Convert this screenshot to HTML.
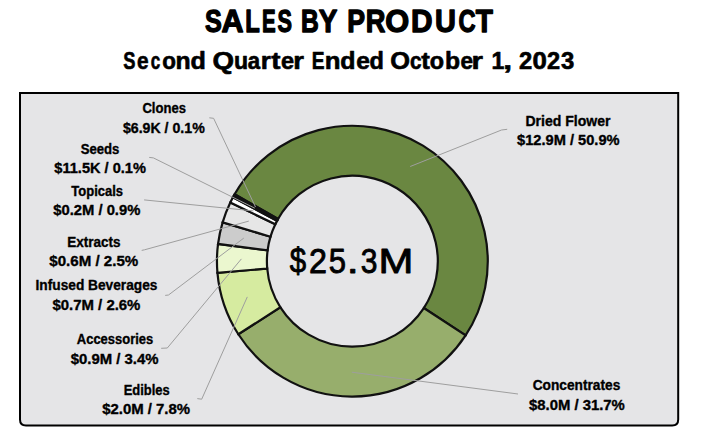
<!DOCTYPE html>
<html><head><meta charset="utf-8"><style>
html,body{margin:0;padding:0;background:#fff;width:702px;height:436px;overflow:hidden}
svg{display:block}
text{font-family:"Liberation Sans",sans-serif;fill:#000}
</style></head><body>
<svg width="702" height="436" viewBox="0 0 702 436">
<path d="M20,93 H678.2 V419.6 Q678.2,425.6 672.2,425.6 H26 Q20,425.6 20,419.6 Z" fill="#E5E5E7" stroke="#000" stroke-width="2"/>
<g stroke="#111" stroke-width="2.2" stroke-linejoin="miter">
<path d="M234.62,194.32 A135.4,135.4 0 1 1 465.60,335.41 L423.82,308.03 A85.45,85.45 0 1 0 278.05,218.99 Z" fill="#6A8741"/>
<path d="M465.60,335.41 A135.4,135.4 0 0 1 238.34,334.24 L280.40,307.29 A85.45,85.45 0 0 0 423.82,308.03 Z" fill="#97AE6C"/>
<path d="M238.34,334.24 A135.4,135.4 0 0 1 217.45,272.82 L267.22,268.53 A85.45,85.45 0 0 0 280.40,307.29 Z" fill="#D6EBA0"/>
<path d="M217.45,272.82 A135.4,135.4 0 0 1 218.05,243.96 L267.60,250.32 A85.45,85.45 0 0 0 267.22,268.53 Z" fill="#EBF7CF"/>
<path d="M218.05,243.96 A135.4,135.4 0 0 1 222.64,222.35 L270.49,236.68 A85.45,85.45 0 0 0 267.60,250.32 Z" fill="#CCCCCC"/>
<path d="M222.64,222.35 A135.4,135.4 0 0 1 230.32,202.53 L275.34,224.18 A85.45,85.45 0 0 0 270.49,236.68 Z" fill="#E6E6E6"/>
<path d="M230.32,202.53 A135.4,135.4 0 0 1 232.98,197.30 L277.01,220.87 A85.45,85.45 0 0 0 275.34,224.18 Z" fill="#FFFFFF"/>
<path d="M232.98,197.30 A135.4,135.4 0 0 1 233.79,195.80 L277.53,219.93 A85.45,85.45 0 0 0 277.01,220.87 Z" fill="#FFFFFF"/>
<path d="M233.79,195.80 A135.4,135.4 0 0 1 234.62,194.32 L278.05,218.99 A85.45,85.45 0 0 0 277.53,219.93 Z" fill="#FFFFFF"/>
</g>
<g fill="none" stroke="#9E9E9E" stroke-width="1">
<polyline points="209.3,117.8 213.6,118.3 255.5,207.0"/>
<polyline points="149.2,157.4 153.4,157.9 254.8,208.2"/>
<polyline points="144.1,199.9 253.4,210.9"/>
<polyline points="141.7,250.4 144.5,249.8 248.8,221.1"/>
<polyline points="165.2,295.4 168.5,295.0 243.8,238.1"/>
<polyline points="161.2,348.3 167.3,348.0 241.4,258.9"/>
<polyline points="197.3,398.6 201.7,399.2 247.3,296.9"/>
<polyline points="507.2,129.3 501.5,130.0 410.2,166.5"/>
<polyline points="518.0,394.0 351.8,372.2"/>
</g>
<text x="164.15" y="113.1" font-size="14.4" font-weight="bold" stroke="#000" stroke-width="0.35" stroke-linejoin="round" text-anchor="middle" textLength="43.53" lengthAdjust="spacingAndGlyphs">Clones</text>
<text x="163.83" y="133" font-size="14.4" font-weight="bold" stroke="#000" stroke-width="0.35" stroke-linejoin="round" text-anchor="middle" textLength="81.84" lengthAdjust="spacingAndGlyphs">$6.9K / 0.1%</text>
<text x="100.04" y="154.0" font-size="14.4" font-weight="bold" stroke="#000" stroke-width="0.35" stroke-linejoin="round" text-anchor="middle" textLength="38.80" lengthAdjust="spacingAndGlyphs">Seeds</text>
<text x="100.14" y="173.2" font-size="14.4" font-weight="bold" stroke="#000" stroke-width="0.35" stroke-linejoin="round" text-anchor="middle" textLength="91.66" lengthAdjust="spacingAndGlyphs">$11.5K / 0.1%</text>
<text x="97.17" y="195.7" font-size="14.4" font-weight="bold" stroke="#000" stroke-width="0.35" stroke-linejoin="round" text-anchor="middle" textLength="51.79" lengthAdjust="spacingAndGlyphs">Topicals</text>
<text x="96.79" y="215" font-size="14.4" font-weight="bold" stroke="#000" stroke-width="0.35" stroke-linejoin="round" text-anchor="middle" textLength="87.14" lengthAdjust="spacingAndGlyphs">$0.2M / 0.9%</text>
<text x="93.97" y="246.5" font-size="14.4" font-weight="bold" stroke="#000" stroke-width="0.35" stroke-linejoin="round" text-anchor="middle" textLength="53.36" lengthAdjust="spacingAndGlyphs">Extracts</text>
<text x="93.80" y="266.4" font-size="14.4" font-weight="bold" stroke="#000" stroke-width="0.35" stroke-linejoin="round" text-anchor="middle" textLength="88.95" lengthAdjust="spacingAndGlyphs">$0.6M / 2.5%</text>
<text x="96.51" y="290.4" font-size="14.4" font-weight="bold" stroke="#000" stroke-width="0.35" stroke-linejoin="round" text-anchor="middle" textLength="121.96" lengthAdjust="spacingAndGlyphs">Infused Beverages</text>
<text x="96.45" y="310.3" font-size="14.4" font-weight="bold" stroke="#000" stroke-width="0.35" stroke-linejoin="round" text-anchor="middle" textLength="87.91" lengthAdjust="spacingAndGlyphs">$0.7M / 2.6%</text>
<text x="115.05" y="344.4" font-size="14.4" font-weight="bold" stroke="#000" stroke-width="0.35" stroke-linejoin="round" text-anchor="middle" textLength="76.46" lengthAdjust="spacingAndGlyphs">Accessories</text>
<text x="114.66" y="363.6" font-size="14.4" font-weight="bold" stroke="#000" stroke-width="0.35" stroke-linejoin="round" text-anchor="middle" textLength="87.74" lengthAdjust="spacingAndGlyphs">$0.9M / 3.4%</text>
<text x="146.71" y="394.5" font-size="14.4" font-weight="bold" stroke="#000" stroke-width="0.35" stroke-linejoin="round" text-anchor="middle" textLength="46.11" lengthAdjust="spacingAndGlyphs">Edibles</text>
<text x="146.11" y="413.7" font-size="14.4" font-weight="bold" stroke="#000" stroke-width="0.35" stroke-linejoin="round" text-anchor="middle" textLength="87.93" lengthAdjust="spacingAndGlyphs">$2.0M / 7.8%</text>
<text x="567.97" y="126.0" font-size="14.4" font-weight="bold" stroke="#000" stroke-width="0.35" stroke-linejoin="round" text-anchor="middle" textLength="85.13" lengthAdjust="spacingAndGlyphs">Dried Flower</text>
<text x="568.34" y="145.0" font-size="14.4" font-weight="bold" stroke="#000" stroke-width="0.35" stroke-linejoin="round" text-anchor="middle" textLength="102.56" lengthAdjust="spacingAndGlyphs">$12.9M / 50.9%</text>
<text x="576.52" y="389.7" font-size="14.4" font-weight="bold" stroke="#000" stroke-width="0.35" stroke-linejoin="round" text-anchor="middle" textLength="87.58" lengthAdjust="spacingAndGlyphs">Concentrates</text>
<text x="576.93" y="409.9" font-size="14.4" font-weight="bold" stroke="#000" stroke-width="0.35" stroke-linejoin="round" text-anchor="middle" textLength="95.80" lengthAdjust="spacingAndGlyphs">$8.0M / 31.7%</text>
<text x="204.92" y="32.4" font-size="31.0" font-weight="bold" stroke="#000" stroke-width="1.3" stroke-linejoin="round" textLength="16.81" lengthAdjust="spacingAndGlyphs">S</text>
<text x="221.49" y="32.4" font-size="31.0" font-weight="bold" stroke="#000" stroke-width="1.3" stroke-linejoin="round" textLength="22.07" lengthAdjust="spacingAndGlyphs">A</text>
<text x="245.36" y="32.4" font-size="31.0" font-weight="bold" stroke="#000" stroke-width="1.3" stroke-linejoin="round" textLength="14.52" lengthAdjust="spacingAndGlyphs">L</text>
<text x="261.98" y="32.4" font-size="31.0" font-weight="bold" stroke="#000" stroke-width="1.3" stroke-linejoin="round" textLength="13.67" lengthAdjust="spacingAndGlyphs">E</text>
<text x="277.62" y="32.4" font-size="31.0" font-weight="bold" stroke="#000" stroke-width="1.3" stroke-linejoin="round" textLength="14.47" lengthAdjust="spacingAndGlyphs">S</text>
<text x="301.10" y="32.4" font-size="31.0" font-weight="bold" stroke="#000" stroke-width="1.3" stroke-linejoin="round" textLength="17.76" lengthAdjust="spacingAndGlyphs">B</text>
<text x="318.87" y="32.4" font-size="31.0" font-weight="bold" stroke="#000" stroke-width="1.3" stroke-linejoin="round" textLength="18.63" lengthAdjust="spacingAndGlyphs">Y</text>
<text x="347.27" y="32.4" font-size="31.0" font-weight="bold" stroke="#000" stroke-width="1.3" stroke-linejoin="round" textLength="17.80" lengthAdjust="spacingAndGlyphs">P</text>
<text x="365.73" y="32.4" font-size="31.0" font-weight="bold" stroke="#000" stroke-width="1.3" stroke-linejoin="round" textLength="19.68" lengthAdjust="spacingAndGlyphs">R</text>
<text x="385.19" y="32.4" font-size="31.0" font-weight="bold" stroke="#000" stroke-width="1.3" stroke-linejoin="round" textLength="23.96" lengthAdjust="spacingAndGlyphs">O</text>
<text x="411.05" y="32.4" font-size="31.0" font-weight="bold" stroke="#000" stroke-width="1.3" stroke-linejoin="round" textLength="21.55" lengthAdjust="spacingAndGlyphs">D</text>
<text x="434.91" y="32.4" font-size="31.0" font-weight="bold" stroke="#000" stroke-width="1.3" stroke-linejoin="round" textLength="20.91" lengthAdjust="spacingAndGlyphs">U</text>
<text x="458.38" y="32.4" font-size="31.0" font-weight="bold" stroke="#000" stroke-width="1.3" stroke-linejoin="round" textLength="17.12" lengthAdjust="spacingAndGlyphs">C</text>
<text x="475.74" y="32.4" font-size="31.0" font-weight="bold" stroke="#000" stroke-width="1.3" stroke-linejoin="round" textLength="17.12" lengthAdjust="spacingAndGlyphs">T</text>
<text x="123.20" y="68.8" font-size="24.6" font-weight="bold" stroke="#000" stroke-width="0.65" stroke-linejoin="round" textLength="12.19" lengthAdjust="spacingAndGlyphs">S</text>
<text x="137.01" y="68.8" font-size="24.6" font-weight="bold" stroke="#000" stroke-width="0.65" stroke-linejoin="round" textLength="11.57" lengthAdjust="spacingAndGlyphs">e</text>
<text x="150.86" y="68.8" font-size="24.6" font-weight="bold" stroke="#000" stroke-width="0.65" stroke-linejoin="round" textLength="9.52" lengthAdjust="spacingAndGlyphs">c</text>
<text x="162.15" y="68.8" font-size="24.6" font-weight="bold" stroke="#000" stroke-width="0.65" stroke-linejoin="round" textLength="13.70" lengthAdjust="spacingAndGlyphs">o</text>
<text x="175.49" y="68.8" font-size="24.6" font-weight="bold" stroke="#000" stroke-width="0.65" stroke-linejoin="round" textLength="15.12" lengthAdjust="spacingAndGlyphs">n</text>
<text x="190.40" y="68.8" font-size="24.6" font-weight="bold" stroke="#000" stroke-width="0.65" stroke-linejoin="round" textLength="15.33" lengthAdjust="spacingAndGlyphs">d</text>
<text x="212.49" y="68.8" font-size="24.6" font-weight="bold" stroke="#000" stroke-width="0.65" stroke-linejoin="round" textLength="21.55" lengthAdjust="spacingAndGlyphs">Q</text>
<text x="233.89" y="68.8" font-size="24.6" font-weight="bold" stroke="#000" stroke-width="0.65" stroke-linejoin="round" textLength="14.10" lengthAdjust="spacingAndGlyphs">u</text>
<text x="247.67" y="68.8" font-size="24.6" font-weight="bold" stroke="#000" stroke-width="0.65" stroke-linejoin="round" textLength="12.36" lengthAdjust="spacingAndGlyphs">a</text>
<text x="260.82" y="68.8" font-size="24.6" font-weight="bold" stroke="#000" stroke-width="0.65" stroke-linejoin="round" textLength="10.04" lengthAdjust="spacingAndGlyphs">r</text>
<text x="271.29" y="68.8" font-size="24.6" font-weight="bold" stroke="#000" stroke-width="0.65" stroke-linejoin="round" textLength="9.23" lengthAdjust="spacingAndGlyphs">t</text>
<text x="281.01" y="68.8" font-size="24.6" font-weight="bold" stroke="#000" stroke-width="0.65" stroke-linejoin="round" textLength="13.07" lengthAdjust="spacingAndGlyphs">e</text>
<text x="293.22" y="68.8" font-size="24.6" font-weight="bold" stroke="#000" stroke-width="0.65" stroke-linejoin="round" textLength="10.67" lengthAdjust="spacingAndGlyphs">r</text>
<text x="311.64" y="68.8" font-size="24.6" font-weight="bold" stroke="#000" stroke-width="0.65" stroke-linejoin="round" textLength="12.78" lengthAdjust="spacingAndGlyphs">E</text>
<text x="324.83" y="68.8" font-size="24.6" font-weight="bold" stroke="#000" stroke-width="0.65" stroke-linejoin="round" textLength="15.75" lengthAdjust="spacingAndGlyphs">n</text>
<text x="340.30" y="68.8" font-size="24.6" font-weight="bold" stroke="#000" stroke-width="0.65" stroke-linejoin="round" textLength="15.21" lengthAdjust="spacingAndGlyphs">d</text>
<text x="356.37" y="68.8" font-size="24.6" font-weight="bold" stroke="#000" stroke-width="0.65" stroke-linejoin="round" textLength="13.65" lengthAdjust="spacingAndGlyphs">e</text>
<text x="369.46" y="68.8" font-size="24.6" font-weight="bold" stroke="#000" stroke-width="0.65" stroke-linejoin="round" textLength="14.36" lengthAdjust="spacingAndGlyphs">d</text>
<text x="390.38" y="68.8" font-size="24.6" font-weight="bold" stroke="#000" stroke-width="0.65" stroke-linejoin="round" textLength="19.76" lengthAdjust="spacingAndGlyphs">O</text>
<text x="410.01" y="68.8" font-size="24.6" font-weight="bold" stroke="#000" stroke-width="0.65" stroke-linejoin="round" textLength="11.57" lengthAdjust="spacingAndGlyphs">c</text>
<text x="421.31" y="68.8" font-size="24.6" font-weight="bold" stroke="#000" stroke-width="0.65" stroke-linejoin="round" textLength="8.58" lengthAdjust="spacingAndGlyphs">t</text>
<text x="429.81" y="68.8" font-size="24.6" font-weight="bold" stroke="#000" stroke-width="0.65" stroke-linejoin="round" textLength="14.28" lengthAdjust="spacingAndGlyphs">o</text>
<text x="445.10" y="68.8" font-size="24.6" font-weight="bold" stroke="#000" stroke-width="0.65" stroke-linejoin="round" textLength="15.09" lengthAdjust="spacingAndGlyphs">b</text>
<text x="460.45" y="68.8" font-size="24.6" font-weight="bold" stroke="#000" stroke-width="0.65" stroke-linejoin="round" textLength="12.50" lengthAdjust="spacingAndGlyphs">e</text>
<text x="471.59" y="68.8" font-size="24.6" font-weight="bold" stroke="#000" stroke-width="0.65" stroke-linejoin="round" textLength="11.43" lengthAdjust="spacingAndGlyphs">r</text>
<text x="491.47" y="68.8" font-size="24.6" font-weight="bold" stroke="#000" stroke-width="0.65" stroke-linejoin="round" textLength="12.85" lengthAdjust="spacingAndGlyphs">1</text>
<text x="503.27" y="68.8" font-size="24.6" font-weight="bold" stroke="#000" stroke-width="0.65" stroke-linejoin="round" textLength="8.84" lengthAdjust="spacingAndGlyphs">,</text>
<text x="519.10" y="68.8" font-size="24.6" font-weight="bold" stroke="#000" stroke-width="0.65" stroke-linejoin="round" textLength="13.23" lengthAdjust="spacingAndGlyphs">2</text>
<text x="532.41" y="68.8" font-size="24.6" font-weight="bold" stroke="#000" stroke-width="0.65" stroke-linejoin="round" textLength="14.33" lengthAdjust="spacingAndGlyphs">0</text>
<text x="546.91" y="68.8" font-size="24.6" font-weight="bold" stroke="#000" stroke-width="0.65" stroke-linejoin="round" textLength="13.11" lengthAdjust="spacingAndGlyphs">2</text>
<text x="561.08" y="68.8" font-size="24.6" font-weight="bold" stroke="#000" stroke-width="0.65" stroke-linejoin="round" textLength="13.26" lengthAdjust="spacingAndGlyphs">3</text>
<text x="289.73" y="272.8" font-size="35.4" stroke="#000" stroke-width="0.9" stroke-linejoin="round" textLength="16.39" lengthAdjust="spacingAndGlyphs">$</text>
<text x="309.03" y="272.8" font-size="35.4" stroke="#000" stroke-width="0.9" stroke-linejoin="round" textLength="17.95" lengthAdjust="spacingAndGlyphs">2</text>
<text x="328.81" y="272.8" font-size="35.4" stroke="#000" stroke-width="0.9" stroke-linejoin="round" textLength="17.24" lengthAdjust="spacingAndGlyphs">5</text>
<text x="346.82" y="272.8" font-size="35.4" stroke="#000" stroke-width="0.9" stroke-linejoin="round" textLength="11.96" lengthAdjust="spacingAndGlyphs">.</text>
<text x="360.71" y="272.8" font-size="35.4" stroke="#000" stroke-width="0.9" stroke-linejoin="round" textLength="16.66" lengthAdjust="spacingAndGlyphs">3</text>
<text x="378.62" y="272.8" font-size="35.4" stroke="#000" stroke-width="0.9" stroke-linejoin="round" textLength="34.87" lengthAdjust="spacingAndGlyphs">M</text>
</svg>
</body></html>
